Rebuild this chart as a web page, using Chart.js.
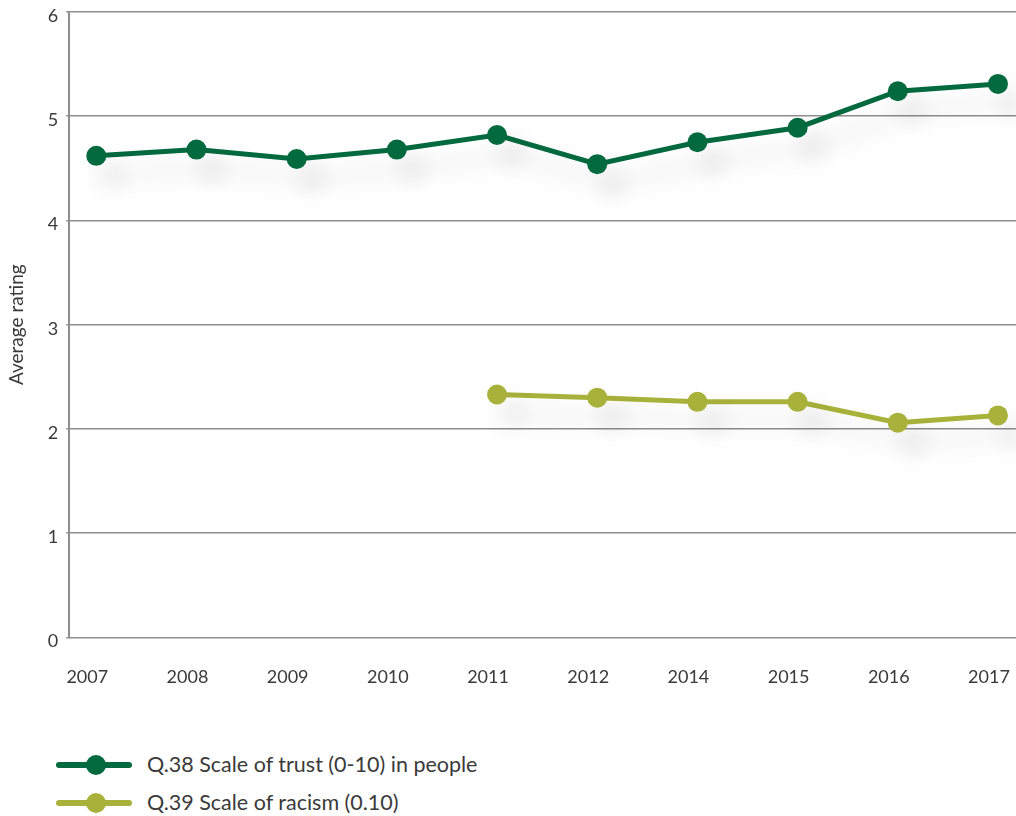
<!DOCTYPE html>
<html>
<head>
<meta charset="utf-8">
<script src="https://cdn.jsdelivr.net/npm/chart.js@4/dist/chart.umd.min.js"></script>
<style>
  body { margin: 0; background: #fff; font-family: Lato, sans-serif; }
  #wrap { position: relative; width: 1016px; height: 816px; }
  #box { position: absolute; left: 0; top: 0; width: 1016px; height: 709px; }
  #legend { position: absolute; left: 56px; top: 746px; }
  .item { position: relative; height: 38px; }
  .swatch { position: absolute; left: 0; top: 16px; width: 76px; height: 6px; border-radius: 3px; }
  .dot { position: absolute; left: 30px; top: 9px; width: 20px; height: 20px; border-radius: 50%; }
  .text { position: absolute; left: 91px; top: 5px; font-size: 21.5px; color: #3a3a3a; white-space: nowrap; }
</style>
</head>
<body>
<div id="wrap">
  <div id="box"><canvas id="trend"></canvas></div>
  <div id="legend"></div>
</div>
<script>
// survey years on the x axis (2013 was not asked)
const years = ["2007", "2008", "2009", "2010", "2011", "2012", "2014", "2015", "2016", "2017"];
// average ratings per year
const trust = [4.62, 4.68, 4.59, 4.68, 4.82, 4.54, 4.75, 4.89, 5.24, 5.31];
const racism = [null, null, null, null, 2.33, 2.30, 2.26, 2.26, 2.06, 2.13];

const COL_TRUST = "#036a3f";
const COL_RACISM = "#a8b23a";
const GRID = "#8e8e8e";
const TXT = "#3a3a3a";

function toPoints(values) {
    const pts = [];
    for (let i = 0; i < values.length; i++) {
        if (values[i] !== null) pts.push({ x: i, y: values[i] });
    }
    return pts;
}

// soft drop shadow under lines and markers
const shadowPlugin = {
    id: "shadow",
    beforeDatasetDraw(chart) {
        const ctx = chart.ctx;
        ctx.save();
        ctx.shadowColor = "rgba(0,0,0,0.16)";
        ctx.shadowBlur = 26;
        ctx.shadowOffsetX = 15;
        ctx.shadowOffsetY = 19;
    },
    afterDatasetDraw(chart) {
        chart.ctx.restore();
    }
};

const datasets = [
    {
        label: "Q.38 Scale of trust (0-10) in people",
        data: toPoints(trust),
        borderColor: COL_TRUST,
        backgroundColor: COL_TRUST
    },
    {
        label: "Q.39 Scale of racism (0.10)",
        data: toPoints(racism),
        borderColor: COL_RACISM,
        backgroundColor: COL_RACISM
    }
];

const chart = new Chart("trend", {
    type: "line",
    data: { datasets: datasets },
    options: {
        responsive: true,
        maintainAspectRatio: false,
        animation: false,
        layout: { autoPadding: false, padding: { top: 12, right: 0, left: 0, bottom: 0 } },
        elements: {
            line: { borderWidth: 5, tension: 0 },
            point: { radius: 10, hoverRadius: 10, borderWidth: 0 }
        },
        plugins: {
            legend: { display: false },
            tooltip: { enabled: false }
        },
        scales: {
            x: {
                type: "linear",
                min: -0.27,
                max: 9.18,
                afterBuildTicks: (scale) => {
                    scale.ticks = years.map((_, i) => ({ value: i }));
                },
                // let the plot run to the right edge
                afterFit: (s) => { s.paddingLeft = 0; s.paddingRight = 0; },
                grid: { display: false },
                border: { display: false },
                ticks: {
                    callback: (v) => years[v],
                    color: TXT,
                    font: { family: "Lato", size: 18 },
                    padding: 21,
                    labelOffset: -9,
                    maxRotation: 0,
                    autoSkip: false
                }
            },
            y: {
                min: 0,
                max: 6,
                afterFit: (s) => { s.paddingTop = 0; s.paddingBottom = 0; },
                ticks: {
                    stepSize: 1,
                    color: TXT,
                    font: { family: "Lato", size: 18 },
                    padding: 8,
                    labelOffset: 4
                },
                grid: { color: GRID, lineWidth: 1.5, drawTicks: true, tickLength: 3 },
                border: { display: true, color: GRID, width: 2 },
                title: {
                    display: true,
                    text: "Average rating",
                    color: TXT,
                    font: { family: "Lato", size: 19 },
                    padding: { top: 5, bottom: 12 }
                }
            }
        }
    },
    plugins: [shadowPlugin]
});

// legend below the chart, built from the dataset labels and colours
const legend = document.getElementById("legend");
chart.data.datasets.forEach((ds) => {
    const item = document.createElement("div");
    item.className = "item";
    item.innerHTML =
        '<div class="swatch" style="background:' + ds.borderColor + '"></div>' +
        '<div class="dot" style="background:' + ds.borderColor + '"></div>' +
        '<div class="text">' + ds.label + '</div>';
    legend.appendChild(item);
});
</script>
</body>
</html>
